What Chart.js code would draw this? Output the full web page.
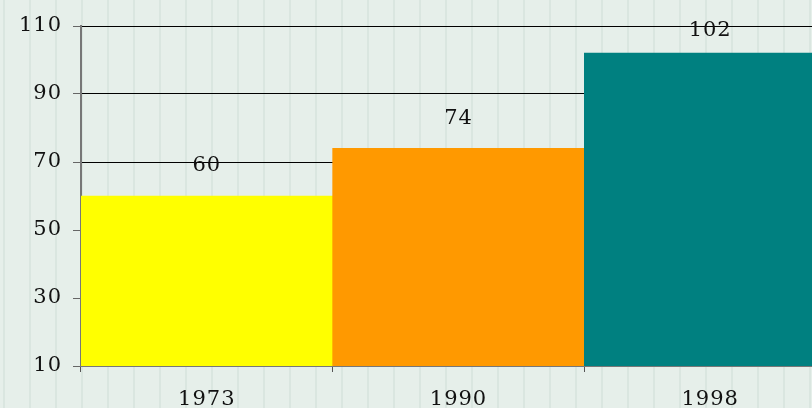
<!DOCTYPE html>
<html>
<head>
<meta charset="utf-8">
<script src="https://cdn.jsdelivr.net/npm/chart.js@4/dist/chart.umd.min.js"></script>
<style>
  html, body { margin: 0; padding: 0; overflow: hidden; background: #e6efea; }
  #wrap { width: 836px; height: 408px; }
</style>
</head>
<body>
<div id="wrap"><canvas id="myChart"></canvas></div>
<script>
var xValues = ["1973", "1990", "1998"]
var yValues = [60, 74, 102]
var barColors = ["#ffff00", "#ff9900", "#008080"]
var yTicks = [10, 30, 50, 70, 90, 110]

// striped backdrop, also widens the digits a bit
var backdrop = {
  id: "backdrop",
  beforeDraw: function(chart) {
    var ctx = chart.ctx
    ctx.letterSpacing = "1px"
    ctx.save()
    ctx.fillStyle = "#e6efea"
    ctx.fillRect(0, 0, chart.width, chart.height)
    ctx.fillStyle = "#dae6e0"
    for (var x = 3; x < chart.width; x += 26) {
      ctx.fillRect(x, 0, 2, chart.height)
    }
    ctx.restore()
  }
}

// numbers above the bars
var valueLabels = {
  id: "valueLabels",
  afterDatasetsDraw: function(chart) {
    var ctx = chart.ctx
    var meta = chart.getDatasetMeta(0)
    ctx.save()
    ctx.font = "21px 'DejaVu Serif'"
    ctx.fillStyle = "#111"
    ctx.textAlign = "center"
    ctx.textBaseline = "middle"
    meta.data.forEach(function(bar, i) {
      var y = Math.max(bar.y - 30, 31)
      ctx.fillText(String(yValues[i]), bar.x, y)
    })
    ctx.restore()
  }
}

new Chart("myChart", {
  type: "bar",
  data: {
    labels: xValues,
    datasets: [{
      data: yValues,
      backgroundColor: barColors,
      borderWidth: 0,
      categoryPercentage: 1,
      barPercentage: 1
    }]
  },
  options: {
    responsive: true,
    maintainAspectRatio: false,
    animation: false,
    layout: { padding: { top: 26, right: 0, left: 0, bottom: 0 } },
    plugins: {
      legend: { display: false },
      tooltip: { enabled: false }
    },
    scales: {
      x: {
        grid: { drawOnChartArea: false, drawTicks: true, tickLength: 6, color: "#555" },
        border: { color: "#777", width: 2 },
        ticks: { color: "#111", font: { family: "DejaVu Serif", size: 21 }, padding: 15, maxRotation: 0 },
        afterFit: function(s) { s.height = 42 }
      },
      y: {
        min: 10,
        max: 110,
        afterBuildTicks: function(s) { s.ticks = yTicks.map(function(v) { return { value: v } }) },
        grid: { color: "#000", tickColor: "#666", tickLength: 8, lineWidth: 1 },
        border: { color: "#777", width: 2 },
        ticks: { color: "#111", font: { family: "DejaVu Serif", size: 21 }, padding: 11 },
        afterFit: function(s) { s.width = 81 }
      }
    }
  },
  plugins: [backdrop, valueLabels]
})
</script>
</body>
</html>
